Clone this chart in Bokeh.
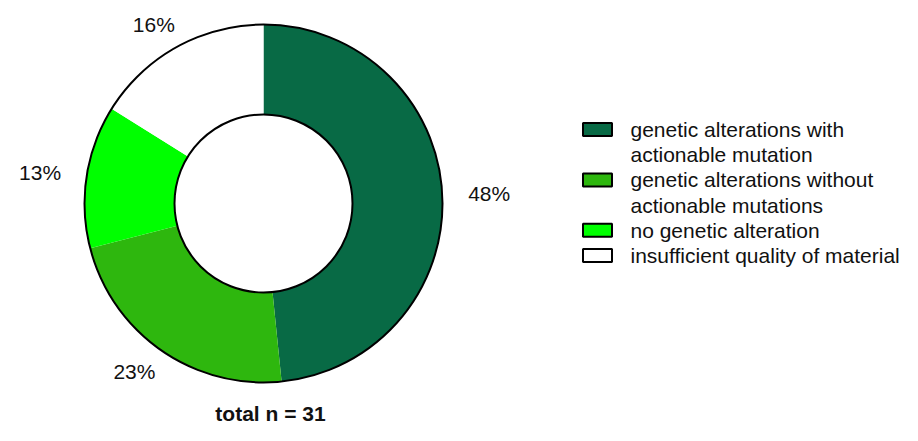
import math
from bokeh.plotting import figure
from bokeh.models import Range1d, ColumnDataSource
from bokeh.core.properties import value
from bokeh.embed import file_html
from bokeh.resources import INLINE

# ---- data ----
categories = [
    "genetic alterations with\nactionable mutation",
    "genetic alterations without\nactionable mutations",
    "no genetic alteration",
    "insufficient quality of material",
]
counts = [15, 7, 4, 5]
colors = ["#086a45", "#2eb70e", "#00ff00", "#ffffff"]
title_text = "total n = 31"

# ---- layout (pixel coordinates, y downward -> y = -pixel_y) ----
W, H = 902, 425
CX, CY = 263, 203          # ring centre
R_OUT, R_IN = 179, 89
LABEL_RX, LABEL_RY = 226, 205
FONT = value("Liberation Sans")
FS = "21px"

p = figure(width=W, height=H, output_backend="svg", toolbar_location=None,
           x_range=Range1d(0, W), y_range=Range1d(-H, 0),
           min_border=0, outline_line_color=None)
p.axis.visible = False
p.grid.visible = False
p.background_fill_color = "white"
p.border_fill_color = "white"

total = sum(counts)
fracs = [c / total for c in counts]
starts, ends, mids = [], [], []
cum = 0.0
for f in fracs:
    a0 = math.pi / 2 - 2 * math.pi * cum
    a1 = math.pi / 2 - 2 * math.pi * (cum + f)
    starts.append(a0)
    ends.append(a1)
    mids.append((a0 + a1) / 2)
    cum += f

src = ColumnDataSource(dict(x=[CX] * len(counts), y=[-CY] * len(counts),
                            start=starts, end=ends, color=colors))
p.annular_wedge(x="x", y="y", inner_radius=R_IN, outer_radius=R_OUT,
                start_angle="start", end_angle="end", direction="clock",
                fill_color="color", line_color=None, source=src)

# ring outlines
p.circle(x=[CX], y=[-CY], radius=R_OUT, fill_color=None, line_color="black", line_width=2)
p.circle(x=[CX], y=[-CY], radius=R_IN, fill_color=None, line_color="black", line_width=2)

# percentage labels
lx = [CX + LABEL_RX * math.cos(a) for a in mids]
ly = [-CY + LABEL_RY * math.sin(a) for a in mids]
pct = [f"{round(100 * f)}%" for f in fracs]
p.text(x=lx, y=ly, text=pct, text_font=FONT, text_font_size=FS,
       text_align="center", text_baseline="middle", text_color="#111111")

# title below
p.text(x=[CX + 7], y=[-413], text=[title_text], text_font=FONT, text_font_size=FS,
       text_font_style="bold", text_align="center", text_baseline="middle",
       text_color="#111111")

# legend (manual)
LEG_X, LEG_Y, ROW = 582, 129, 25.2
row = 0
sq_x, sq_y, tx, ty, tt = [], [], [], [], []
for cat in categories:
    lines = cat.split("\n")
    sq_x.append(LEG_X + 15)
    sq_y.append(-(LEG_Y + ROW * row))
    for ln in lines:
        tx.append(LEG_X + 48)
        ty.append(-(LEG_Y + ROW * row))
        tt.append(ln)
        row += 1
p.rect(x=sq_x, y=sq_y, width=29, height=13, fill_color=colors,
       line_color="black", line_width=2)
p.text(x=tx, y=ty, text=tt, text_font=FONT, text_font_size=FS,
       text_align="left", text_baseline="middle", text_color="#111111")

open("out.html", "w").write(file_html(p, INLINE))
